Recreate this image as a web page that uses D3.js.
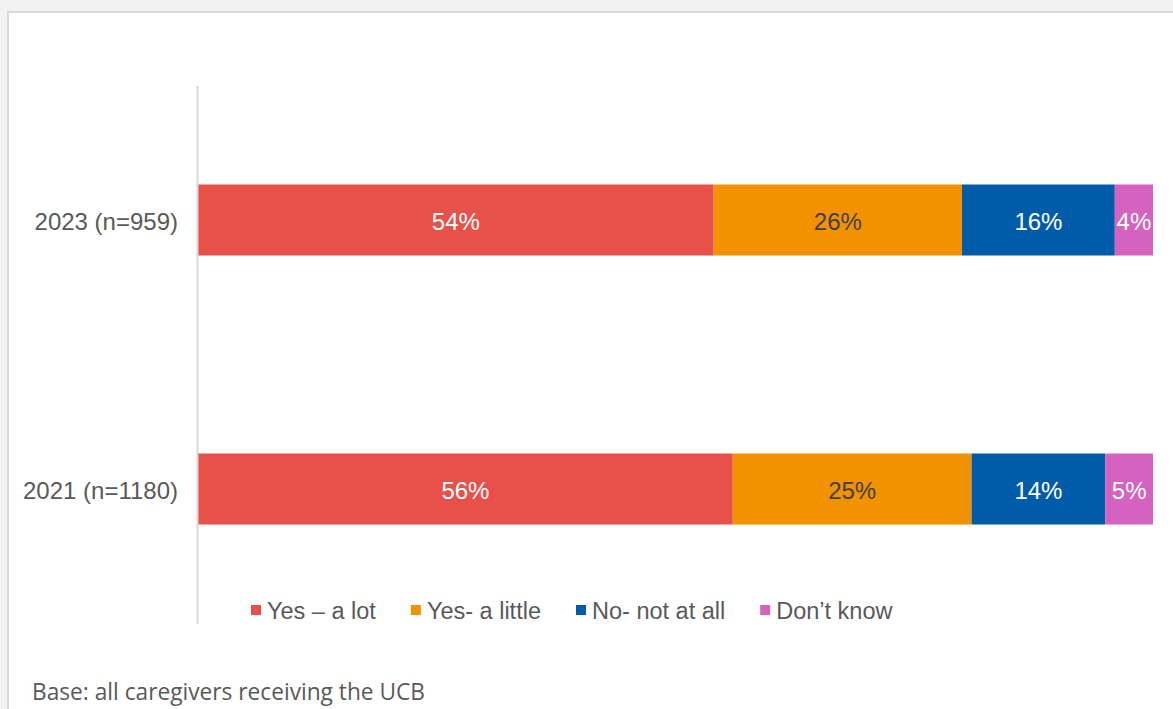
<!DOCTYPE html>
<html>
<head>
<meta charset="utf-8">
<script src="https://cdn.jsdelivr.net/npm/d3@7"></script>
<style>
  html, body { margin: 0; padding: 0; background: #f2f2f2; }
  svg { display: block; }
</style>
</head>
<body>
<svg id="chart" width="1173" height="709"></svg>
<script>
// Survey waves (rows, top to bottom)
const categories = ["2023 (n=959)", "2021 (n=1180)"];
// Response options (stack order, left to right)
const seriesNames = ["Yes \u2013 a lot", "Yes- a little", "No- not at all", "Don\u2019t know"];
// Percentages per response option, in the same order as categories
const yesALot    = [54, 56];
const yesALittle = [26, 25];
const noNotAtAll = [16, 14];
const dontKnow   = [4, 5];
const footnote = "Base: all caregivers receiving the UCB";

const colors = ["#e8504a", "#f39200", "#005ca9", "#d462be"];
const labelColors = ["#ffffff", "#404040", "#ffffff", "#ffffff"];

const seriesValues = [yesALot, yesALittle, noNotAtAll, dontKnow];
const rows = categories.map((c, i) => {
  const r = { category: c };
  seriesNames.forEach((s, j) => r[s] = seriesValues[j][i]);
  return r;
});

const svg = d3.select("#chart");

// card panel
svg.append("rect")
  .attr("x", 8).attr("y", 12)
  .attr("width", 1200).attr("height", 760)
  .attr("fill", "#ffffff")
  .attr("stroke", "#d9d9d9")
  .attr("stroke-width", 2);

const x = d3.scaleLinear().domain([0, 100]).range([198, 1153]);
const y = d3.scaleBand()
  .domain(categories)
  .range([85.5, 623.5])
  .paddingInner(0.736)
  .paddingOuter(0.368);

const stack = d3.stack().keys(seriesNames);
const layers = stack(rows);

const font = "'Liberation Sans', Arial, sans-serif";
const fontSize = 24;

// bars
const layerG = svg.append("g").selectAll("g")
  .data(layers)
  .join("g")
  .attr("fill", (d, i) => colors[i]);

layerG.selectAll("rect")
  .data(d => d)
  .join("rect")
  .attr("x", d => x(d[0]))
  .attr("y", d => y(d.data.category))
  .attr("width", d => x(d[1]) - x(d[0]))
  .attr("height", y.bandwidth());

// value labels
svg.append("g").selectAll("g")
  .data(layers)
  .join("g")
  .attr("fill", (d, i) => labelColors[i])
  .selectAll("text")
  .data(d => d)
  .join("text")
  .attr("x", d => (x(d[0]) + x(d[1])) / 2)
  .attr("y", d => y(d.data.category) + y.bandwidth() / 2)
  .attr("dy", "0.4em")
  .attr("text-anchor", "middle")
  .attr("font-family", font)
  .attr("font-size", fontSize)
  .text(d => (d[1] - d[0]) + "%");

// category axis
const yAxis = svg.append("g")
  .attr("transform", `translate(${x(0) - 1},0)`)
  .call(d3.axisLeft(y).tickSize(0).tickPadding(19));
yAxis.select(".domain").attr("stroke", "#d9d9d9").attr("stroke-width", 2);
yAxis.selectAll("text")
  .attr("font-family", font)
  .attr("font-size", fontSize)
  .attr("dy", "0.4em")
  .attr("fill", "#595959");

// legend
const legend = svg.append("g").attr("transform", "translate(251,0)");
let lx = 0;
seriesNames.forEach((name, i) => {
  const g = legend.append("g").attr("transform", `translate(${lx},0)`);
  g.append("rect")
    .attr("x", 0).attr("y", 605)
    .attr("width", 10).attr("height", 10)
    .attr("fill", colors[i]);
  const t = g.append("text")
    .attr("x", 16).attr("y", 619)
    .attr("font-family", font)
    .attr("font-size", 23.5)
    .attr("fill", "#595959")
    .text(name);
  lx += 16 + t.node().getComputedTextLength() + 35;
});

// footnote
svg.append("text")
  .attr("x", 32).attr("y", 700)
  .attr("font-family", "'Open Sans', 'Noto Sans', sans-serif")
  .attr("font-size", 23)
  .attr("fill", "#595959")
  .attr("textLength", 393)
  .attr("lengthAdjust", "spacingAndGlyphs")
  .text(footnote);
</script>
</body>
</html>
